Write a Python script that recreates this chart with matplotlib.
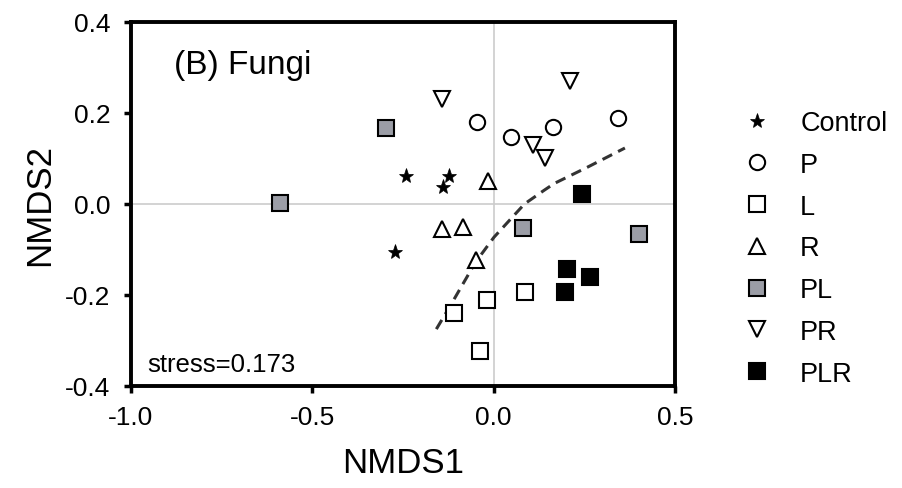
import matplotlib
matplotlib.use('Agg')
import matplotlib.pyplot as plt

plt.rcParams['font.family'] = ['Liberation Sans', 'DejaVu Sans']

# NMDS scores per treatment
control_x = [-0.243, -0.123, -0.140, -0.271]
control_y = [0.062, 0.061, 0.038, -0.106]
p_x = [-0.045, 0.049, 0.164, 0.342]
p_y = [0.180, 0.148, 0.170, 0.188]
l_x = [-0.108, -0.019, -0.038, 0.086]
l_y = [-0.240, -0.210, -0.324, -0.193]
r_x = [-0.142, -0.084, -0.050, -0.016]
r_y = [-0.055, -0.050, -0.122, 0.051]
pl_x = [-0.588, -0.298, 0.081, 0.401]
pl_y = [0.002, 0.166, -0.053, -0.067]
pr_x = [-0.142, 0.210, 0.109, 0.141]
pr_y = [0.231, 0.271, 0.130, 0.100]
plr_x = [0.243, 0.201, 0.267, 0.198]
plr_y = [0.022, -0.143, -0.160, -0.194]

# dashed fitted curve
curve_x = [-0.158, -0.119, -0.050, 0.001, 0.085, 0.139, 0.167, 0.259, 0.362]
curve_y = [-0.275, -0.223, -0.128, -0.073, 0.0, 0.030, 0.045, 0.081, 0.123]

x_ticks = [-1.0, -0.5, 0.0, 0.5]
y_ticks = [-0.4, -0.2, 0.0, 0.2, 0.4]

GRAY = '#9b9da6'
series = [
    ('Control', control_x, control_y, dict(marker='*', ms=11, mfc='black', mec='black', mew=0.5)),
    ('P', p_x, p_y, dict(marker='o', ms=11, mfc='white', mec='black', mew=1.5)),
    ('L', l_x, l_y, dict(marker='s', ms=11, mfc='white', mec='black', mew=1.5)),
    ('R', r_x, r_y, dict(marker='^', ms=11, mfc='white', mec='black', mew=1.5)),
    ('PL', pl_x, pl_y, dict(marker='s', ms=11, mfc=GRAY, mec='black', mew=1.5)),
    ('PR', pr_x, pr_y, dict(marker='v', ms=11, mfc='white', mec='black', mew=1.5)),
    ('PLR', plr_x, plr_y, dict(marker='s', ms=11, mfc='black', mec='black', mew=1.5)),
]

fig = plt.figure(figsize=(9.02, 4.89), dpi=100)
ax = fig.add_axes([0.1452, 0.2086, 0.6031, 0.7444])

ax.axhline(0, color='#cccccc', lw=1.2, zorder=0)
ax.axvline(0, color='#cccccc', lw=1.2, zorder=0)

ax.plot(curve_x, curve_y, ls=(0, (3.5, 2.2)), color='#333333', lw=2.2, zorder=1)

handles = []
for label, xs, ys, style in series:
    h, = ax.plot(xs, ys, ls='none', label=label, zorder=3, **style)
    handles.append(h)

ax.set_xlim(-1.0, 0.5)
ax.set_ylim(-0.4, 0.4)
ax.set_xticks(x_ticks)
ax.set_yticks(y_ticks)
ax.set_xticklabels([f'{v:.1f}' for v in x_ticks])
ax.set_yticklabels([f'{v:.1f}' for v in y_ticks])
ax.tick_params(direction='out', length=5, width=2.5, labelsize=19)
ax.tick_params(axis='y', pad=10)
ax.tick_params(axis='x', pad=9)
for s in ax.spines.values():
    s.set_linewidth(2.8)

ax.set_xlabel('NMDS1', fontsize=25, labelpad=12)
ax.set_ylabel('NMDS2', fontsize=25, labelpad=6)

ax.text(0.08, 0.86, '(B) Fungi', transform=ax.transAxes, fontsize=24)
ax.text(0.03, 0.04, 'stress=0.173', transform=ax.transAxes, fontsize=18.5)

fig.legend(handles=handles, loc='center left', bbox_to_anchor=(0.812, 0.49),
           frameon=False, fontsize=19.5, handlelength=0.8, handletextpad=1.2,
           labelspacing=0.58, borderpad=0)

fig.savefig('out.png', dpi=100)
